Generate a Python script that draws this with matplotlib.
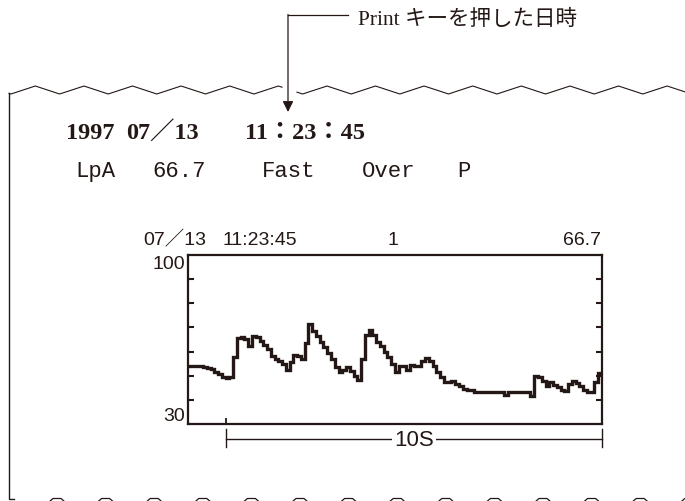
import matplotlib
matplotlib.use('Agg')

import numpy as np
import matplotlib.pyplot as plt
from matplotlib.transforms import blended_transform_factory

INK = '#231815'
SERIF = ['Liberation Serif', 'Noto Sans CJK JP']
SANS = ['Liberation Sans', 'Noto Sans CJK JP']

# Printout text
note_text = "Print キーを押した日時"
date_tokens = ["1997", "07／13", "11：23：45"]
status_tokens = ["LpA", "66.7", "Fast", "Over", "P"]
graph_date = "07／13"
graph_time = "11:23:45"
graph_no = "1"
graph_value = "66.7"
scale_label = "10S"

# Level recording: 0.1 s samples from -1 s to 10 s (dB)
times = np.round(np.arange(-1.0, 10.01, 0.1), 1)
levels = [53.9, 53.9, 53.9, 53.9, 53.5, 53.1, 52.8, 51.7, 50.7, 49.3,
          48.9, 49.3, 57.6, 65.5, 65.9, 65.2, 62.4, 66.3, 65.9, 64.5,
          62.7, 61.1, 58.3, 56.9, 56.2, 54.9, 52.5, 55.6, 58.6, 58.3,
          56.9, 63.6, 71.4, 68.7, 66.3, 64.1, 61.8, 59.4, 56.9, 53.5,
          51.7, 52.5, 53.5, 52.1, 50.0, 48.4, 56.9, 66.9, 69.1, 66.9,
          64.1, 62.2, 60.0, 57.6, 54.9, 51.7, 53.9, 54.2, 52.5, 54.5,
          54.2, 54.2, 55.9, 57.2, 55.9, 53.9, 51.5, 49.3, 47.6, 47.3,
          48.0, 46.6, 45.6, 44.5, 44.2, 44.2, 43.1, 43.1, 43.1, 43.1,
          43.1, 43.1, 43.1, 43.1, 42.0, 43.1, 43.1, 43.1, 43.1, 43.1,
          43.1, 41.7, 50.0, 49.3, 48.0, 45.9, 47.3, 46.2, 45.2, 44.2,
          43.8, 46.6, 48.0, 47.0, 45.6, 44.2, 43.1, 43.1, 47.6, 51.1,
          51.1]
y_min, y_max = 30, 100
y_ticks = [40, 50, 60, 70, 80, 90]

W, H = 685, 502
fig = plt.figure(figsize=(W / 100, H / 100), dpi=100)

# paper layer in pixel coordinates
paper = fig.add_axes([0, 0, 1, 1])
paper.set_xlim(0, W)
paper.set_ylim(H, 0)
paper.axis('off')

# torn top edge (zigzag) with a gap for the arrow
vx = np.arange(-13.3, W + 50, 24.3)
vy = np.where(np.arange(len(vx)) % 2 == 0, 87, 95)
zx = np.arange(9, W + 1, 0.5)
zy = np.interp(zx, vx, vy).astype(float)
zy[(zx > 282) & (zx < 297)] = np.nan
paper.plot(zx, zy, color=INK, lw=0.8)

# left edge and bottom bumps
paper.plot([9, 9, 14], [np.interp(9, vx, vy), 500, 500], color=INK, lw=1.0)
for cx in np.arange(57, W + 20, 48.6):
    paper.plot([cx - 8, cx - 4, cx + 4, cx + 8], [503, 499.5, 499.5, 503],
               color=INK, lw=0.9)

# callout
paper.plot([288, 348], [16, 16], color=INK, lw=0.9)
paper.annotate('', xy=(288, 113), xytext=(288, 15.5),
               arrowprops=dict(arrowstyle='-|>', color=INK, lw=0.9,
                               mutation_scale=16, shrinkA=0, shrinkB=0))
paper.text(358, 25, note_text, family=SERIF, fontsize=15.5, color=INK,
           ha='left', va='baseline')

# header lines
for tok, x in zip(date_tokens, [66, 126, 245]):
    paper.text(x, 139, tok, family=SERIF, fontsize=17.5, fontweight='bold',
               color=INK, ha='left', va='baseline')
for tok, x in zip(status_tokens, [75, 152, 262, 362, 457]):
    paper.text(x, 177, tok, family='Liberation Mono', fontsize=16,
               color=INK, ha='left', va='baseline')

# graph header
paper.text(143, 245, graph_date, family=SANS, fontsize=14, color=INK,
           ha='left', va='baseline')
paper.text(223, 245, graph_time, family=SANS, fontsize=14, color=INK,
           ha='left', va='baseline')
paper.text(393, 245, graph_no, family=SANS, fontsize=14, color=INK,
           ha='center', va='baseline')
paper.text(601, 245, graph_value, family=SANS, fontsize=14, color=INK,
           ha='right', va='baseline')

# level graph
ax = fig.add_axes([188 / W, 1 - 425 / H, 414 / W, 169 / H])
ax.plot(times, levels, drawstyle='steps-post', color=INK, lw=2.4,
        solid_joinstyle='miter')
ax.set_xlim(-1.0, 10.0)
ax.set_ylim(y_min, y_max)
for s in ax.spines.values():
    s.set_linewidth(1.6)
    s.set_color(INK)
ax.set_yticks(y_ticks)
ax.set_xticks([0])
ax.tick_params(axis='y', direction='in', left=True, right=True,
               length=4, width=1.5, color=INK,
               labelleft=False, labelright=False)
ax.tick_params(axis='x', direction='in', bottom=True, length=4.5, width=1.3,
               color=INK, labelbottom=False)

lab = blended_transform_factory(ax.transAxes, ax.transData)
ax.text(-0.007, y_max, str(y_max), transform=lab, family=SANS, fontsize=14,
        color=INK, ha='right', va='top')
ax.text(-0.007, y_min, str(y_min), transform=lab, family=SANS, fontsize=14,
        color=INK, ha='right', va='bottom')

# 10 s scale bar
bar = blended_transform_factory(ax.transData, ax.transAxes)
ax.plot([0, 10], [-0.089, -0.089], transform=bar, color=INK, lw=1.0,
        clip_on=False)
for xe in [0, 10]:
    ax.plot([xe, xe], [-0.03, -0.136], transform=bar, color=INK, lw=1.0,
            clip_on=False)
ax.text(5.0, -0.089, scale_label, transform=bar, family=SANS, fontsize=16,
        color=INK, ha='center', va='center',
        bbox=dict(facecolor='white', edgecolor='none', pad=1.5))

fig.savefig('out.png', dpi=100)
